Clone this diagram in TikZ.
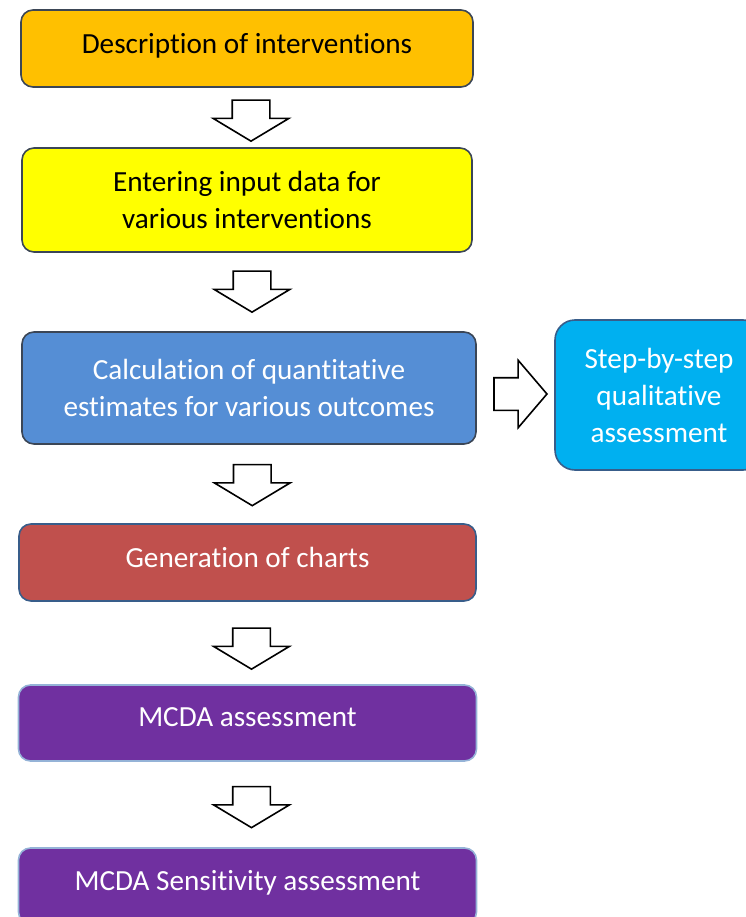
\documentclass[tikz,border=0pt]{standalone}
\usepackage{fontspec}
\setmainfont{Carlito}[Ligatures=NoCommon]
\usetikzlibrary{positioning,shapes.arrows,calc}

\definecolor{boxline}{HTML}{3B4656}
\definecolor{blueline}{HTML}{385D8A}
\definecolor{paleline}{HTML}{95B3D7}
\definecolor{descfill}{HTML}{FFC000}
\definecolor{entryfill}{HTML}{FFFF00}
\definecolor{calcfill}{HTML}{558ED5}
\definecolor{stepfill}{HTML}{00B0F0}
\definecolor{chartfill}{HTML}{C0504D}
\definecolor{mcdafill}{HTML}{7030A0}

\tikzset{
	box/.style={draw=boxline, line width=1.6pt, rounded corners=12pt, align=center,
		inner sep=0pt, outer sep=0pt, font=\fontsize{29.2}{37}\selectfont},
	oneline/.style={text depth=11pt},
	blockdown/.style={single arrow, draw, line width=1.6pt, fill=white, inner sep=0pt,
		outer sep=0pt, minimum height=41pt, single arrow head extend=19pt,
		single arrow tip angle=118, rotate=-90},
	blockright/.style={single arrow, draw, line width=1.6pt, fill=white, inner sep=0pt,
		outer sep=0pt, minimum height=53pt, single arrow head extend=17.5pt,
		single arrow tip angle=99},
}

\begin{document}
\begin{tikzpicture}[x=1pt, y=-1pt]
	\useasboundingbox (0,0) rectangle (745,917);
	
	\node [box, oneline, fill=descfill, minimum width=452pt, minimum height=77pt] (desc) at (247,48.5) {Description of interventions};
	\node [box, fill=entryfill, minimum width=450pt, minimum height=104pt, below=61pt of desc] (entry) {Entering input data for\\various interventions};
	\node [box, fill=calcfill, text=white, minimum width=454pt, minimum height=112pt, below=80pt of entry, xshift=2pt] (calc) {Calculation of quantitative\\estimates for various outcomes};
	\node [box, draw=blueline, fill=stepfill, text=white, rounded corners=20pt, minimum width=208pt, minimum height=150pt, text width=200pt, right=79pt of calc, yshift=-7pt] (step) {Step-by-step\\qualitative\\assessment};
	\node [box, oneline, draw=blueline, fill=chartfill, text=white, minimum width=457pt, minimum height=77pt, below=80pt of calc, xshift=-1.5pt] (charts) {Generation of charts};
	\node [box, oneline, draw=paleline, fill=mcdafill, text=white, minimum width=458pt, minimum height=76pt, below=84pt of charts] (mcda) {MCDA assessment};
	\node [box, oneline, draw=paleline, fill=mcdafill, text=white, minimum width=458pt, minimum height=76pt, below=87pt of mcda] (sens) {MCDA Sensitivity assessment};
	
	% hollow block arrows
	\node [blockdown] (a1) at ($(desc.south)!0.5!(entry.north) + (4,-2.5)$) {\rule{0pt}{36pt}};
	\node [blockdown] (a2) at ($(entry.south)!0.5!(calc.north) + (4,-6)$) {\rule{0pt}{36pt}};
	\node [blockdown] (a3) at ($(calc.south)!0.5!(charts.north) + (4,-4.5)$) {\rule{0pt}{36pt}};
	\node [blockdown] (a4) at ($(charts.south)!0.5!(mcda.north) + (4,0)$) {\rule{0pt}{36pt}};
	\node [blockdown] (a5) at ($(mcda.south)!0.5!(sens.north) + (4,-3)$) {\rule{0pt}{36pt}};
	\node [blockright] (ar) at ($(calc.east)!0.5!(step.west) + (-2,2.5)$) {\rule{0pt}{31pt}};
\end{tikzpicture}
\end{document}
